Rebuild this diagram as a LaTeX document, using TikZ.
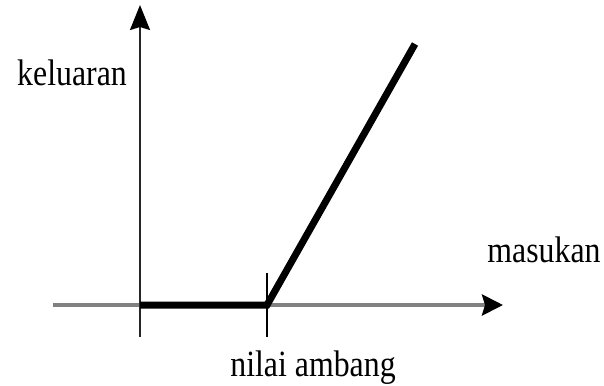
\documentclass[tikz,border=0pt]{standalone}
\usepackage{fontspec}
\setmainfont{Liberation Serif}
\newfontfamily\labelfont[FakeStretch=0.86]{Liberation Serif}
\definecolor{axisgray}{HTML}{808080}
\usepackage{tikz}
\usetikzlibrary{positioning,arrows.meta}

\begin{document}
\begin{tikzpicture}[
      x=1pt, y=-1pt,
      lbl/.style={inner sep=0pt, anchor=base, font=\fontsize{37}{40}\selectfont\labelfont},
      xaxis/.style={draw=axisgray, line width=4pt, -{Stealth[length=21pt, width=21pt, inset=3pt, black]}},
      yaxis/.style={draw=black!85, line width=2pt, -{Stealth[length=25pt, width=20pt, inset=3pt, black]}},
      tickmark/.style={draw=black, line width=2pt},
      resp/.style={draw=black, line width=7pt, line join=miter},
    ]
    \useasboundingbox (0,0) rectangle (604,385);
    % axes
    \coordinate (o) at (140,305);
    \coordinate (xs) at (53,305);
    \coordinate (xe) at (503,305);
    \coordinate (yb) at (140,337);
    \coordinate (ye) at (140,5);
    % threshold
    \coordinate (th) at (267,305);
    \coordinate (thb) at (267,337);
    \coordinate (tht) at (267,273);
    \coordinate (top) at (415,44);

    \draw[xaxis] (xs) -- (xe);
    \draw[yaxis] (yb) -- (ye);
    \draw[tickmark] (thb) -- (tht);
    \draw[resp] (o) -- (th) -- (top);

    \node[lbl] (out) at (72,86) {keluaran};
    \node[lbl] (in) at (544,262) {masukan};
    \node[lbl] (amb) at (313,376) {nilai ambang};
  \end{tikzpicture}
\end{document}
